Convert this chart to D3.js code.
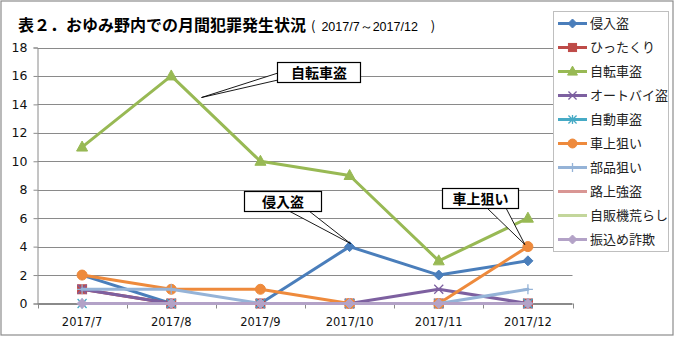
<!DOCTYPE html>
<html><head><meta charset="utf-8">
<script src="https://cdn.jsdelivr.net/npm/d3@7"></script>
<style>
html,body{margin:0;padding:0;background:#fff;}
svg{display:block;font-family:"Noto Sans CJK JP","Noto Sans",sans-serif;}
</style></head>
<body><svg id="c" width="675" height="337"></svg>
<script>
const months = ["2017/7","2017/8","2017/9","2017/10","2017/11","2017/12"];
const seriesNames = ["侵入盗","ひったくり","自転車盗","オートバイ盗","自動車盗","車上狙い","部品狙い","路上強盗","自販機荒らし","振込め詐欺"];
const shinnyu   = [2,0,0,4,2,3];
const hittakuri = [1,0,0,0,0,0];
const jitensha  = [11,16,10,9,3,6];
const autobai   = [1,0,0,0,1,0];
const jidousha  = [0,0,0,0,0,0];
const shajou    = [2,1,1,0,0,4];
const buhin     = [1,1,0,0,0,1];
const rojou     = [0,0,0,0,0,0];
const jihanki   = [0,0,0,0,0,0];
const furikome  = [0,0,0,0,0,0];
const yTicks = [0,2,4,6,8,10,12,14,16,18];
const titleMain = "表２．おゆみ野内での月間犯罪発生状況";
const titleSub = "2017/7～2017/12";

const values = [shinnyu,hittakuri,jitensha,autobai,jidousha,shajou,buhin,rojou,jihanki,furikome];
const colors = ["#4A7EBB","#BE4B48","#98B954","#7D60A0","#46AAC5","#EE8A3C","#95B3D7","#D99694","#C3D69B","#B3A2C7"];
const markers = ["diamond","square","triangle","x","star","circle","plus","none","none","diamond"];

const svg = d3.select("#c");
// outer border
svg.append("rect").attr("x",1).attr("y",1).attr("width",672).attr("height",334)
  .attr("fill","#fff").attr("stroke","#8c8c8c").attr("stroke-width",1.2);

const L=37.5, R=572.5, T=47.5, B=303.5;
const x = d3.scalePoint().domain(months).range([L,R]).padding(0.5);
const y = d3.scaleLinear().domain([0,18]).range([B,T]);

// gridlines
svg.append("g").selectAll("line").data(yTicks).join("line")
  .attr("x1",L).attr("x2",R).attr("y1",d=>Math.round(y(d))+0.5).attr("y2",d=>Math.round(y(d))+0.5)
  .attr("stroke","#8a8a8a").attr("stroke-width",1);

// y axis
const ya = svg.append("g").attr("transform",`translate(${L},0)`)
  .call(d3.axisLeft(y).tickValues(yTicks).tickSize(4).tickPadding(6).tickFormat(d3.format("d")));
ya.select(".domain").attr("stroke","#8a8a8a");
ya.selectAll(".tick line").attr("stroke","#8a8a8a");
ya.selectAll("text").attr("font-size",12.5).attr("fill","#111").attr("font-family","'DejaVu Sans',sans-serif");

// x axis: ticks between categories
const step = x.step();
const xa = svg.append("g");
xa.append("line").attr("x1",L).attr("x2",R).attr("y1",B).attr("y2",B).attr("stroke","#8a8a8a");
const bounds = d3.range(months.length+1).map(i=>L+i*step);
xa.selectAll("line.t").data(bounds).join("line").attr("class","t")
  .attr("x1",d=>Math.round(d)+0.5).attr("x2",d=>Math.round(d)+0.5).attr("y1",B).attr("y2",B+5).attr("stroke","#8a8a8a");
xa.selectAll("text").data(months).join("text")
  .attr("x",d=>x(d)).attr("y",326).attr("text-anchor","middle")
  .attr("font-size",11.5).attr("fill","#111").attr("font-family","'DejaVu Sans',sans-serif").text(d=>d);

// marker drawing
function drawMarker(g, type, color, cx, cy, s){
  s = s||1;
  if(type==="diamond"){
    g.append("path").attr("d",`M${cx},${cy-5*s}L${cx+5*s},${cy}L${cx},${cy+5*s}L${cx-5*s},${cy}Z`).attr("fill",color).attr("stroke",color);
  } else if(type==="square"){
    g.append("rect").attr("x",cx-4.5*s).attr("y",cy-4.5*s).attr("width",9*s).attr("height",9*s).attr("fill",color).attr("stroke",color);
  } else if(type==="triangle"){
    g.append("path").attr("d",`M${cx},${cy-6*s}L${cx+5.5*s},${cy+4*s}L${cx-5.5*s},${cy+4*s}Z`).attr("fill",color).attr("stroke",color);
  } else if(type==="x"){
    g.append("path").attr("d",`M${cx-4.5*s},${cy-4.5*s}L${cx+4.5*s},${cy+4.5*s}M${cx+4.5*s},${cy-4.5*s}L${cx-4.5*s},${cy+4.5*s}`).attr("stroke",color).attr("stroke-width",1.3).attr("fill","none");
  } else if(type==="star"){
    g.append("path").attr("d",`M${cx-4.5*s},${cy-4.5*s}L${cx+4.5*s},${cy+4.5*s}M${cx+4.5*s},${cy-4.5*s}L${cx-4.5*s},${cy+4.5*s}M${cx},${cy-5*s}L${cx},${cy+5*s}`).attr("stroke",color).attr("stroke-width",1.3).attr("fill","none");
  } else if(type==="circle"){
    g.append("circle").attr("cx",cx).attr("cy",cy).attr("r",5*s).attr("fill",color).attr("stroke",color);
  } else if(type==="plus"){
    g.append("path").attr("d",`M${cx-5*s},${cy}L${cx+5*s},${cy}M${cx},${cy-5*s}L${cx},${cy+5*s}`).attr("stroke",color).attr("stroke-width",1.3).attr("fill","none");
  }
}

const line = d3.line().x((d,i)=>x(months[i])).y(d=>y(d));
values.forEach((vals,si)=>{
  const g = svg.append("g");
  g.append("path").datum(vals).attr("d",line).attr("fill","none")
    .attr("stroke",colors[si]).attr("stroke-width",3).attr("stroke-linejoin","round").attr("stroke-linecap","round");
  vals.forEach((v,i)=>drawMarker(g, markers[si], colors[si], x(months[i]), y(v)));
});

// callouts
function callout(bx,by,bw,bh,b1,b2,tip,label){
  const g = svg.append("g");
  g.append("path").attr("d",`M${b1[0]},${b1[1]}L${tip[0]},${tip[1]}L${b2[0]},${b2[1]}Z`)
    .attr("fill","#fff").attr("stroke","#000").attr("stroke-width",0.9);
  g.append("rect").attr("x",bx).attr("y",by).attr("width",bw).attr("height",bh)
    .attr("fill","#fff").attr("stroke","#000").attr("stroke-width",1.2);
  g.append("text").attr("x",bx+bw/2).attr("y",by+bh/2+5).attr("text-anchor","middle")
    .attr("font-size",14).attr("font-weight","bold").attr("fill","#000").text(label);
}
callout(277.5,62.5,83,20,[278,73],[278,80],[201.5,97.5],"自転車盗");
callout(244.5,191.5,77,20,[289,211],[309,211],[x("2017/10")+1,y(4)-3],"侵入盗");
callout(442.5,188.5,76,20,[487,208],[506,208],[x("2017/12")-3,y(4)-2],"車上狙い");

// legend
const lg = svg.append("g");
lg.append("rect").attr("x",553.5).attr("y",11.5).attr("width",115).attr("height",240)
  .attr("fill","#fff").attr("stroke","#bfbfbf").attr("stroke-width",1);
seriesNames.forEach((n,i)=>{
  const cy = 23.5 + i*24;
  lg.append("line").attr("x1",558).attr("x2",587).attr("y1",cy).attr("y2",cy)
    .attr("stroke",colors[i]).attr("stroke-width",3);
  drawMarker(lg, markers[i], colors[i], 572.5, cy, 0.9);
  lg.append("text").attr("x",590).attr("y",cy+4.5).attr("font-size",13).attr("fill","#222").text(n);
});

// title
const tt = svg.append("text").attr("x",18).attr("y",31).attr("fill","#000");
tt.append("tspan").attr("font-size",16).attr("font-weight","bold").text(titleMain);
tt.append("tspan").attr("font-size",13).attr("dx",5).text("(");
tt.append("tspan").attr("font-size",12.5).attr("dx",6).attr("font-family","'Liberation Sans',sans-serif").text(titleSub);
tt.append("tspan").attr("font-size",13).attr("dx",13).text(")");
</script></body></html>
